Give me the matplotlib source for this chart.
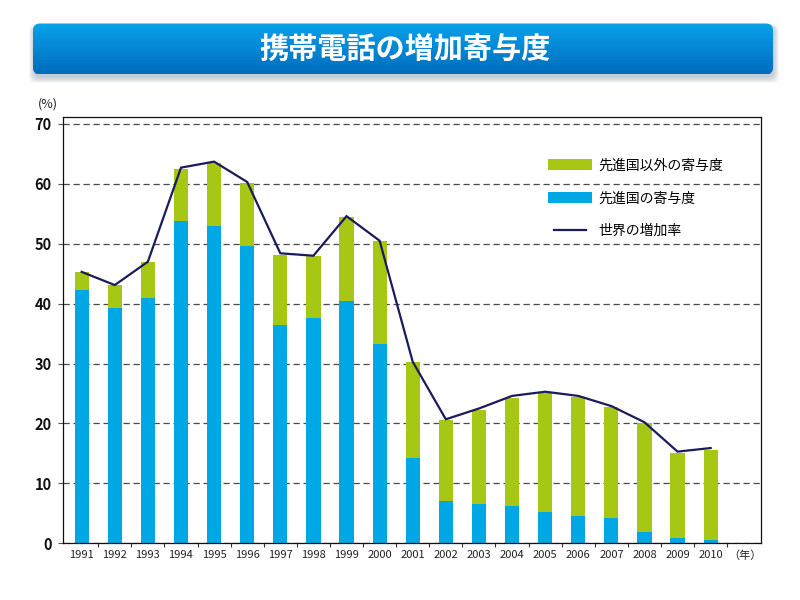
import matplotlib
matplotlib.use('Agg')
import matplotlib.pyplot as plt
import numpy as np
from matplotlib.patches import FancyBboxPatch, Patch
from matplotlib.lines import Line2D
from matplotlib.legend_handler import HandlerLine2D

plt.rcParams['font.family'] = ['Noto Sans CJK JP', 'DejaVu Sans']

# ---------------- data ----------------
years = ['1991', '1992', '1993', '1994', '1995', '1996', '1997', '1998', '1999', '2000',
         '2001', '2002', '2003', '2004', '2005', '2006', '2007', '2008', '2009', '2010']
developed = [42.2, 39.2, 41.0, 53.8, 52.9, 49.7, 36.5, 37.6, 40.5, 33.2,
             14.3, 7.1, 6.5, 6.3, 5.3, 4.6, 4.2, 1.9, 0.9, 0.6]
others = [3.1, 3.9, 6.0, 8.6, 10.6, 10.4, 11.6, 10.4, 13.9, 17.2,
          15.9, 13.4, 15.8, 17.9, 19.8, 19.9, 18.6, 18.1, 14.2, 15.0]
world = [45.3, 43.1, 47.0, 62.7, 63.7, 60.3, 48.4, 48.0, 54.6, 50.5,
         30.3, 20.7, 22.5, 24.6, 25.3, 24.6, 22.9, 20.2, 15.3, 15.9]
title = '携帯電話の増加寄与度'
lab_others = '先進国以外の寄与度'
lab_dev = '先進国の寄与度'
lab_world = '世界の増加率'
yticks = [0, 10, 20, 30, 40, 50, 60, 70]

c_blue = '#00a7e5'
c_green = '#a6c814'
c_line = '#1b1b5c'

fig = plt.figure(figsize=(8, 6), dpi=100)

# ---------------- banner ----------------
bg = fig.add_axes([0, 0, 1, 1], zorder=0)
bg.set_xlim(0, 800)
bg.set_ylim(600, 0)
bg.axis('off')
bx0, bx1, by0, by1 = 33, 773, 23.5, 74.5
for i in range(7):
    sh = FancyBboxPatch((bx0 - i * 0.8 + 1, by0 + 3 - i * 0.3), bx1 - bx0 + i * 1.6, by1 - by0 + i * 1.2,
                        boxstyle='round,pad=0,rounding_size=7', fc='#7a8a99', ec='none',
                        alpha=0.07, transform=bg.transData, zorder=0.5)
    bg.add_patch(sh)
box = FancyBboxPatch((bx0, by0), bx1 - bx0, by1 - by0,
                     boxstyle='round,pad=0,rounding_size=7', fc='none', ec='none',
                     transform=bg.transData, zorder=0.6)
bg.add_patch(box)
top_c = np.array([0x0a, 0xa2, 0xea]) / 255
bot_c = np.array([0x00, 0x6c, 0xbd]) / 255
t = np.linspace(0, 1, 100)[:, None, None]
grad = top_c[None, None, :] * (1 - t) + bot_c[None, None, :] * t
im = bg.imshow(grad, extent=[bx0, bx1, by1, by0], origin='upper', aspect='auto',
               interpolation='bilinear', zorder=2)
im.set_clip_path(box)
bg.set_xlim(0, 800)
bg.set_ylim(600, 0)
bg.text((bx0 + bx1) / 2 + 2, (by0 + by1) / 2 + 1, title, color='white', fontsize=21,
        fontweight='bold', ha='center', va='center', zorder=3)

# ---------------- main chart ----------------
ax = fig.add_axes([63.3 / 800, 1 - 543.3 / 600, (761 - 63.3) / 800, (543.3 - 116.7) / 600], zorder=1)
x = np.arange(len(years))
w = 0.43
ax.bar(x, developed, width=w, color=c_blue, zorder=2)
ax.bar(x, others, width=w, bottom=developed, color=c_green, zorder=2)
ax.plot(x, world, color=c_line, lw=1.6, zorder=3, solid_joinstyle='miter')

ax.set_xlim(-0.555, 20.52)
ax.set_ylim(0, 71.2)
ax.set_yticks(yticks)
ax.set_yticklabels([str(v) for v in yticks], fontsize=10.5, fontweight='bold')
ax.set_xticks(x)
ax.set_xticklabels(years, fontsize=8)
ax.set_xticks(np.arange(0.5, 20, 1.0), minor=True)
ax.tick_params(axis='x', which='major', length=0, pad=5, colors='#222222')
ax.tick_params(axis='x', which='minor', length=3, width=0.8, direction='out', color='#333333')
ax.tick_params(axis='y', which='major', length=3.5, width=0.8, pad=5, color='#555555', labelcolor='#111111')

ax.yaxis.grid(True, color='#4a4a4a', lw=0.9, linestyle=(0, (5, 3)))
ax.set_axisbelow(True)
for s in ax.spines.values():
    s.set_linewidth(0.9)
    s.set_color('#111111')

handles = [Patch(facecolor=c_green, edgecolor='none'),
           Patch(facecolor=c_blue, edgecolor='none'),
           Line2D([0], [0], color=c_line, lw=1.6)]
leg = ax.legend(handles, [lab_others, lab_dev, lab_world], loc='upper left',
                bbox_to_anchor=(0.694, 0.902), frameon=False, fontsize=10,
                handlelength=3.2, handleheight=0.8, handletextpad=0.45,
                labelspacing=1.35, borderpad=0, borderaxespad=0,
                handler_map={Line2D: HandlerLine2D(numpoints=2, marker_pad=0.45)})

fig.text(48 / 800, 1 - 104 / 600, '(%)', fontsize=9, ha='center', va='center', color='#222222')
fig.text(744.5 / 800, 1 - 556 / 600, '（年）', fontsize=8, ha='center', va='center', color='#222222')

fig.savefig('out.png', dpi=100)
